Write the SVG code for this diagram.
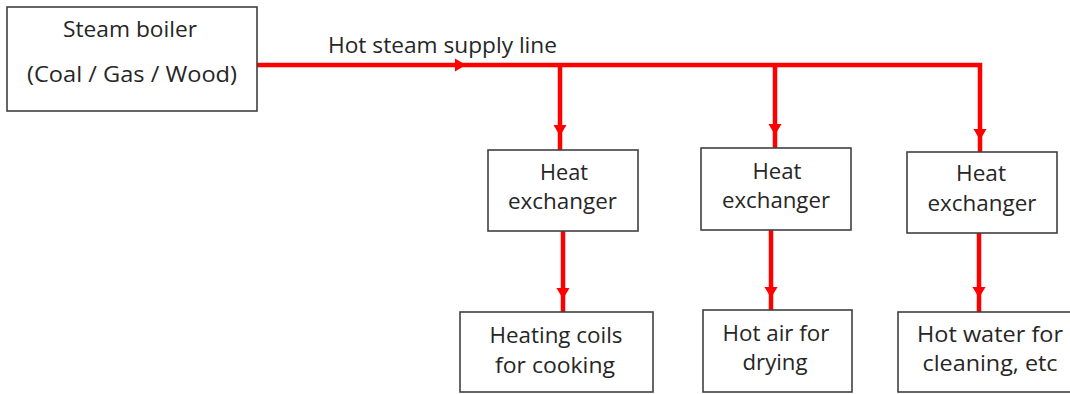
<svg xmlns="http://www.w3.org/2000/svg" width="1070" height="394" viewBox="0 0 1070 394">
  <style>
    .box { fill: #ffffff; stroke: #404040; stroke-width: 1.6; }
    .lbl { font-family: "Open Sans", "Liberation Sans", sans-serif; font-size: 21px; fill: #262626; text-anchor: middle; }
    .pipe { fill: none; stroke: #ff0000; stroke-width: 4.5; }
    .head { fill: #ff0000; }
  </style>
  <defs>
    <!-- arrowhead with its tip at the origin, pointing down -->
    <path id="tipDown" d="M0,0 L-6.5,-11 L6.5,-11 Z"/>
  </defs>

  <!-- steam distribution piping -->
  <g id="connectors">
    <path class="pipe" d="M257,65 H980 V152"/>
    <path class="pipe" d="M560,65 V150"/>
    <path class="pipe" d="M775,65 V148"/>
    <path class="pipe" d="M563,231 V312"/>
    <path class="pipe" d="M771,230 V310"/>
    <path class="pipe" d="M979,233 V312"/>
    <use href="#tipDown" class="head" transform="translate(466,65) rotate(-90)"/>
    <use href="#tipDown" class="head" transform="translate(560,136)"/>
    <use href="#tipDown" class="head" transform="translate(775,135)"/>
    <use href="#tipDown" class="head" transform="translate(980,140)"/>
    <use href="#tipDown" class="head" transform="translate(563,299)"/>
    <use href="#tipDown" class="head" transform="translate(771,298)"/>
    <use href="#tipDown" class="head" transform="translate(979,298)"/>
    <text class="lbl" x="442.5" y="53" textLength="229" lengthAdjust="spacingAndGlyphs">Hot steam supply line</text>
  </g>

  <g id="boiler">
    <rect class="box" x="7" y="7" width="250" height="104"/>
    <text class="lbl" x="130" y="37" textLength="134" lengthAdjust="spacingAndGlyphs">Steam boiler</text>
    <text class="lbl" x="132" y="82" textLength="210" lengthAdjust="spacingAndGlyphs">(Coal / Gas / Wood)</text>
  </g>

  <g id="hx1">
    <rect class="box" x="488" y="150" width="150" height="81"/>
    <text class="lbl" x="564" y="180" textLength="48" lengthAdjust="spacingAndGlyphs">Heat</text>
    <text class="lbl" x="562.5" y="209" textLength="109" lengthAdjust="spacingAndGlyphs">exchanger</text>
  </g>

  <g id="hx2">
    <rect class="box" x="701" y="148" width="150" height="82"/>
    <text class="lbl" x="777" y="179" textLength="49" lengthAdjust="spacingAndGlyphs">Heat</text>
    <text class="lbl" x="776" y="208" textLength="108" lengthAdjust="spacingAndGlyphs">exchanger</text>
  </g>

  <g id="hx3">
    <rect class="box" x="907" y="152" width="150" height="81"/>
    <text class="lbl" x="981" y="181" textLength="50" lengthAdjust="spacingAndGlyphs">Heat</text>
    <text class="lbl" x="982" y="211" textLength="109" lengthAdjust="spacingAndGlyphs">exchanger</text>
  </g>

  <g id="cooking">
    <rect class="box" x="460" y="312" width="193" height="80"/>
    <text class="lbl" x="556" y="343" textLength="133" lengthAdjust="spacingAndGlyphs">Heating coils</text>
    <text class="lbl" x="555" y="373" textLength="120" lengthAdjust="spacingAndGlyphs">for cooking</text>
  </g>

  <g id="drying">
    <rect class="box" x="703" y="310" width="149" height="82"/>
    <text class="lbl" x="776" y="341" textLength="107" lengthAdjust="spacingAndGlyphs">Hot air for</text>
    <text class="lbl" x="775" y="370" textLength="65" lengthAdjust="spacingAndGlyphs">drying</text>
  </g>

  <g id="cleaning">
    <rect class="box" x="898" y="312" width="180" height="80"/>
    <text class="lbl" x="990" y="342" textLength="146" lengthAdjust="spacingAndGlyphs">Hot water for</text>
    <text class="lbl" x="990" y="371" textLength="135" lengthAdjust="spacingAndGlyphs">cleaning, etc</text>
  </g>
</svg>
